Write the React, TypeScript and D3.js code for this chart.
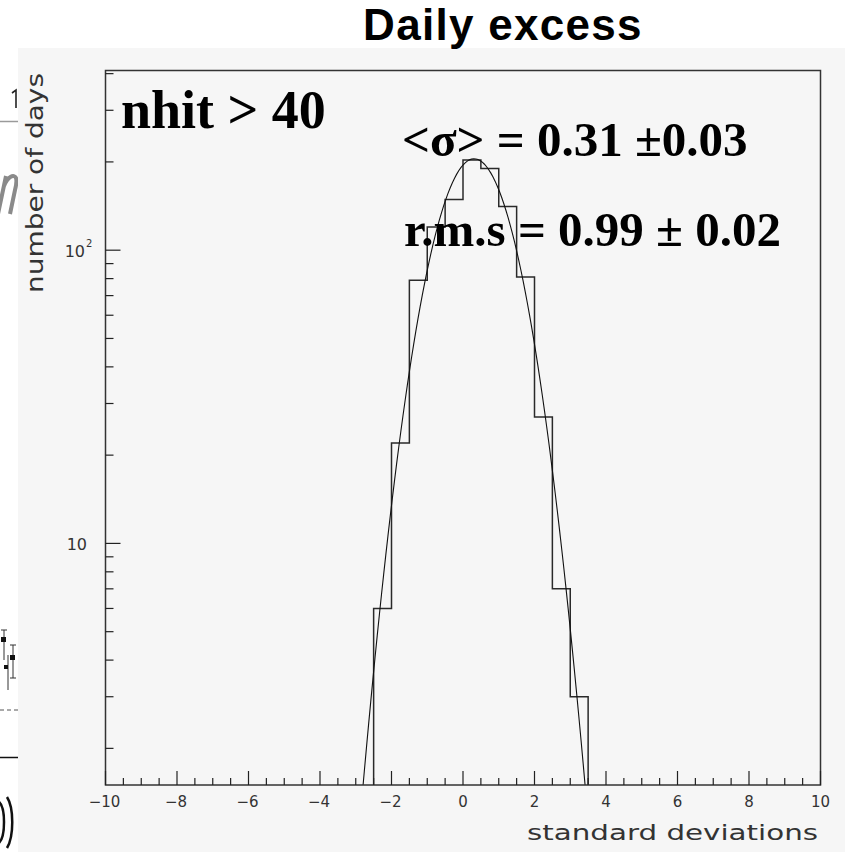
import React from 'react';
import * as d3 from 'd3';

// Histogram of daily excess significance, 0.5-sigma bins (lower edge, entries)
const binLowEdges = [-2.5, -2.0, -1.5, -1.0, -0.5, 0.0, 0.5, 1.0, 1.5, 2.0, 2.5, 3.0];
const binCounts = [6, 22, 79, 120, 149, 203, 190, 141, 81, 27, 7, 3];
const binWidth = 0.5;

// Gaussian fit parameters
const fitAmplitude = 205;
const fitMean = 0.31;
const fitSigma = 0.99;

// Axis ticks
const xMajorTicks = [-10, -8, -6, -4, -2, 0, 2, 4, 6, 8, 10];
const xMinorStep = 0.5;
const yMajorTicks = [10, 100];
const yMinorTicks = [2, 3, 4, 5, 6, 7, 8, 9, 20, 30, 40, 50, 60, 70, 80, 90, 200, 300, 400];

const W = 845;
const H = 852;
const frame = { left: 105.5, right: 820.5, top: 70.5, bottom: 785 };

const serif = "'Liberation Serif', 'Times New Roman', serif";
const sans = "'DejaVu Sans', Verdana, sans-serif";
const axisInk = '#333';

export default function App() {
  const x = d3.scaleLinear().domain([-10, 10]).range([frame.left, frame.right]);
  const y = d3.scaleLog().domain([1.5, 410]).range([frame.bottom, frame.top]);

  const histPts: [number, number][] = [
    [binLowEdges[0], 1],
    ...binLowEdges.map((e, i) => [e, binCounts[i]] as [number, number]),
    [binLowEdges[binLowEdges.length - 1] + binWidth, binCounts[binCounts.length - 1]],
    [binLowEdges[binLowEdges.length - 1] + binWidth, 1],
  ];
  const histPath = d3
    .line<[number, number]>()
    .x((d) => x(d[0]))
    .y((d) => y(d[1]))
    .curve(d3.curveStepAfter)(histPts) as string;

  const fitXs = d3.range(-3.6, 4.2, 0.06);
  const fitPath = d3
    .line<number>()
    .x((v) => x(v))
    .y((v) => y(Math.max(0.5, fitAmplitude * Math.exp(-((v - fitMean) ** 2) / (2 * fitSigma * fitSigma)))))(fitXs) as string;

  const xMinor = d3.range(-10, 10 + 1e-6, xMinorStep);

  return (
    <svg
      width={W}
      height={H}
      style={{ position: 'absolute', left: 0, top: 0, background: '#ffffff' }}
    >
      <defs>
        <clipPath id="plotArea">
          <rect x={frame.left} y={frame.top} width={frame.right - frame.left} height={frame.bottom - frame.top} />
        </clipPath>
        <clipPath id="leftStrip">
          <rect x={0} y={0} width={18} height={H} />
        </clipPath>
      </defs>

      {/* canvas */}
      <rect x={0} y={0} width={W} height={H} fill="#ffffff" />
      <rect x={18} y={48} width={W - 18} height={H - 48} fill="#f6f6f6" />

      {/* neighbouring panel fragment at the left edge */}
      <g clipPath="url(#leftStrip)">
        <path d="M12,93 L16,90 L16,108" fill="none" stroke="#222" strokeWidth={1.6} />
        <line x1={0} x2={18} y1={121.5} y2={121.5} stroke="#9a9a9a" strokeWidth={1.5} />
        <path
          d="M-2,214 L6,176 M4,186 C8,176 14,174 16,178 C17,181 16,186 15,190 L10,214"
          fill="none"
          stroke="#8a8a8a"
          strokeWidth={4}
        />
        <g stroke="#333" strokeWidth={1}>
          <line x1={4} x2={4} y1={630} y2={660} />
          <line x1={1} x2={7} y1={630} y2={630} />
          <line x1={13} x2={13} y1={645} y2={678} />
          <line x1={10} x2={16} y1={645} y2={645} />
          <line x1={10} x2={16} y1={678} y2={678} />
          <line x1={8} x2={8} y1={655} y2={690} />
        </g>
        <rect x={1} y={637} width={5} height={5} fill="#111" />
        <rect x={10} y={655} width={5} height={5} fill="#111" />
        <rect x={4} y={665} width={4} height={4} fill="#111" />
        <line x1={0} x2={18} y1={710} y2={710} stroke="#555" strokeWidth={1} strokeDasharray="4 3" />
        <line x1={0} x2={18} y1={757.5} y2={757.5} stroke="#111" strokeWidth={1.5} />
        <path d="M-6,800 C2,800 4,812 4,822 C4,834 2,845 -6,845" fill="none" stroke="#111" strokeWidth={2.5} />
        <path d="M7,797 C14,808 14,836 7,848" fill="none" stroke="#111" strokeWidth={2.5} />
      </g>

      {/* title */}
      <text
        x={503}
        y={40}
        textAnchor="middle"
        fontFamily="'Liberation Sans', Arial, sans-serif"
        fontWeight="bold"
        fontSize={44}
        letterSpacing={1.3}
        fill="#000"
      >
        Daily excess
      </text>

      {/* histogram and fit */}
      <g clipPath="url(#plotArea)">
        <path d={histPath} fill="none" stroke="#2a2a2a" strokeWidth={1.5} />
        <path d={fitPath} fill="none" stroke="#111" strokeWidth={1.1} />
      </g>

      {/* frame */}
      <rect
        x={frame.left}
        y={frame.top}
        width={frame.right - frame.left}
        height={frame.bottom - frame.top}
        fill="none"
        stroke="#333"
        strokeWidth={1.5}
      />

      {/* x ticks */}
      <g stroke="#222" strokeWidth={1.2}>
        {xMinor.map((v) => {
          const major = xMajorTicks.some((m) => Math.abs(m - v) < 1e-6);
          return (
            <line key={`xt${v}`} x1={x(v)} x2={x(v)} y1={frame.bottom} y2={frame.bottom - (major ? 14 : 7)} />
          );
        })}
      </g>
      <g fontFamily={sans} fontSize={15} fill={axisInk} textAnchor="middle">
        {xMajorTicks.map((v) => (
          <text key={`xl${v}`} x={x(v) + (v < 0 ? -1 : 0)} y={807}>
            {v < 0 ? `\u2212${Math.abs(v)}` : `${v}`}
          </text>
        ))}
      </g>

      {/* y ticks */}
      <g stroke="#222" strokeWidth={1.2}>
        {yMinorTicks.map((v) => (
          <line key={`ym${v}`} x1={frame.left} x2={frame.left + 8} y1={y(v)} y2={y(v)} />
        ))}
        {yMajorTicks.map((v) => (
          <line key={`yM${v}`} x1={frame.left} x2={frame.left + 15} y1={y(v)} y2={y(v)} />
        ))}
      </g>
      <g fontFamily={sans} fill={axisInk}>
        <text x={87} y={y(10) + 7} textAnchor="end" fontSize={16}>10</text>
        <text x={85} y={y(100) + 7} textAnchor="end" fontSize={16}>10</text>
        <text x={86} y={y(100) - 3} fontSize={10}>2</text>
      </g>

      {/* axis titles */}
      <text
        x={527}
        y={840}
        fontFamily={sans}
        fontSize={21}
        fill={axisInk}
        textLength={291}
        lengthAdjust="spacingAndGlyphs"
      >
        standard deviations
      </text>
      <text
        transform="translate(43,293) rotate(-90)"
        x={0}
        y={0}
        fontFamily={sans}
        fontSize={23}
        fill={axisInk}
        textLength={220}
        lengthAdjust="spacingAndGlyphs"
      >
        number of days
      </text>

      {/* annotations */}
      <text x={121} y={128} fontFamily={serif} fontWeight="bold" fontSize={54} fill="#000">
        nhit &gt; 40
      </text>
      <text x={402} y={156} fontFamily={serif} fontWeight="bold" fontSize={49} fill="#000">
        {'<\u03c3> = 0.31 \u00b10.03'}
      </text>
      <text x={404} y={246} fontFamily={serif} fontWeight="bold" fontSize={49} fill="#000">
        {'r.m.s = 0.99 \u00b1 0.02'}
      </text>
    </svg>
  );
}
